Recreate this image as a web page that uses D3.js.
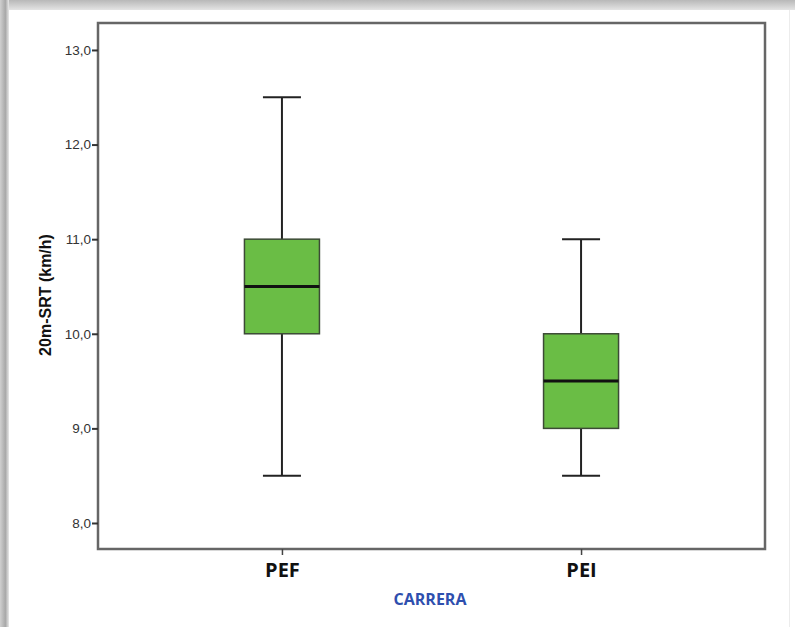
<!DOCTYPE html>
<html>
<head>
<meta charset="utf-8">
<script src="https://cdn.jsdelivr.net/npm/d3@7"></script>
<style>
  body { margin: 0; background: #fff; }
  svg { display: block; }
</style>
</head>
<body>
<div id="chart"></div>
<script>
// chart data
var categories = ["PEF", "PEI"];
var mins = [8.5, 8.5];
var q1s = [10.0, 9.0];
var medians = [10.5, 9.5];
var q3s = [11.0, 10.0];
var maxs = [12.5, 11.0];
var yTicks = [8, 9, 10, 11, 12, 13];

var svgWidth = 795;
var svgHeight = 627;

var margin = { top: 23, right: 30, bottom: 78, left: 98 };
var width = svgWidth - margin.left - margin.right;
var height = svgHeight - margin.top - margin.bottom;

var svg = d3.select("#chart")
  .append("svg")
  .attr("width", svgWidth)
  .attr("height", svgHeight);

// page-like gray border around the picture
var defs = svg.append("defs");
var gTop = defs.append("linearGradient").attr("id", "gTop").attr("x1", 0).attr("y1", 0).attr("x2", 0).attr("y2", 1);
gTop.append("stop").attr("offset", "0%").attr("stop-color", "#b8b8b8");
gTop.append("stop").attr("offset", "100%").attr("stop-color", "#e4e4e4");
var gLeft = defs.append("linearGradient").attr("id", "gLeft").attr("x1", 0).attr("y1", 0).attr("x2", 1).attr("y2", 0);
gLeft.append("stop").attr("offset", "0%").attr("stop-color", "#d0d0d0");
gLeft.append("stop").attr("offset", "60%").attr("stop-color", "#a8a8a8");
gLeft.append("stop").attr("offset", "100%").attr("stop-color", "#e8e8e8");

svg.append("rect").attr("x", 0).attr("y", 0).attr("width", svgWidth).attr("height", 10).attr("fill", "url(#gTop)");
svg.append("rect").attr("x", 0).attr("y", 0).attr("width", 9).attr("height", svgHeight).attr("fill", "url(#gLeft)");
svg.append("rect").attr("x", 789).attr("y", 10).attr("width", 1).attr("height", svgHeight).attr("fill", "#ececec");

var chartGroup = svg.append("g")
  .attr("transform", `translate(${margin.left}, ${margin.top})`);

// scales
var yScale = d3.scaleLinear()
  .domain([7.725, 13.285])
  .range([height, 0]);

var xScale = d3.scalePoint()
  .domain(categories)
  .range([0, width])
  .padding(0.615);

// frame
chartGroup.append("rect")
  .attr("x", 0)
  .attr("y", 0)
  .attr("width", width)
  .attr("height", height)
  .attr("fill", "none")
  .attr("stroke", "#666")
  .attr("stroke-width", 2.5);

// y axis
var leftAxis = d3.axisLeft(yScale)
  .tickValues(yTicks)
  .tickSize(6)
  .tickFormat(d => d3.format(".1f")(d).replace(".", ","));

var yAxis = chartGroup.append("g").call(leftAxis);
yAxis.select(".domain").remove();
yAxis.selectAll(".tick line").attr("stroke", "#333").attr("stroke-width", 2);
yAxis.selectAll(".tick text")
  .attr("x", -7)
  .attr("fill", "#333")
  .style("font-family", "'Liberation Sans', Arial, sans-serif")
  .style("font-size", "13.5px");

// x axis
var bottomAxis = d3.axisBottom(xScale).tickSize(6);
var xAxis = chartGroup.append("g")
  .attr("transform", `translate(0, ${height})`)
  .call(bottomAxis);
xAxis.select(".domain").remove();
xAxis.selectAll(".tick line").attr("stroke", "#444").attr("stroke-width", 1.5);
xAxis.selectAll(".tick text")
  .attr("y", 14)
  .attr("dy", "0.71em")
  .attr("fill", "#111")
  .style("font-family", "'Open Sans', sans-serif")
  .style("font-weight", "bold")
  .style("font-size", "20px");

// boxes
var boxWidth = 75;
var capWidth = 38;
var boxes = chartGroup.selectAll(".box")
  .data(categories)
  .enter()
  .append("g")
  .attr("class", "box")
  .attr("transform", d => `translate(${xScale(d)}, 0)`);

// whiskers
boxes.append("line")
  .attr("x1", 0).attr("x2", 0)
  .attr("y1", (d, i) => yScale(maxs[i]))
  .attr("y2", (d, i) => yScale(q3s[i]))
  .attr("stroke", "#222").attr("stroke-width", 2);

boxes.append("line")
  .attr("x1", 0).attr("x2", 0)
  .attr("y1", (d, i) => yScale(q1s[i]))
  .attr("y2", (d, i) => yScale(mins[i]))
  .attr("stroke", "#222").attr("stroke-width", 2);

boxes.append("line")
  .attr("x1", -capWidth / 2).attr("x2", capWidth / 2)
  .attr("y1", (d, i) => yScale(maxs[i]))
  .attr("y2", (d, i) => yScale(maxs[i]))
  .attr("stroke", "#222").attr("stroke-width", 2);

boxes.append("line")
  .attr("x1", -capWidth / 2).attr("x2", capWidth / 2)
  .attr("y1", (d, i) => yScale(mins[i]))
  .attr("y2", (d, i) => yScale(mins[i]))
  .attr("stroke", "#222").attr("stroke-width", 2);

// box body
boxes.append("rect")
  .attr("x", -boxWidth / 2)
  .attr("width", boxWidth)
  .attr("y", (d, i) => yScale(q3s[i]))
  .attr("height", (d, i) => yScale(q1s[i]) - yScale(q3s[i]))
  .attr("fill", "#6abd45")
  .attr("stroke", "#3c4a36")
  .attr("stroke-width", 1.5);

// median
boxes.append("line")
  .attr("x1", -boxWidth / 2).attr("x2", boxWidth / 2)
  .attr("y1", (d, i) => yScale(medians[i]))
  .attr("y2", (d, i) => yScale(medians[i]))
  .attr("stroke", "#111").attr("stroke-width", 3);

// axis titles
chartGroup.append("text")
  .attr("transform", "rotate(-90)")
  .attr("x", -(height / 2 + 9))
  .attr("y", -47)
  .attr("text-anchor", "middle")
  .attr("fill", "#111")
  .style("font-family", "'Liberation Sans', Arial, sans-serif")
  .style("font-weight", "bold")
  .style("font-size", "16px")
  .text("20m-SRT (km/h)");

chartGroup.append("text")
  .attr("x", 332)
  .attr("y", height + 56)
  .attr("text-anchor", "middle")
  .attr("fill", "#2e4fae")
  .style("font-family", "'Open Sans', sans-serif")
  .style("font-weight", "bold")
  .style("font-size", "16px")
  .text("CARRERA");
</script>
</body>
</html>
